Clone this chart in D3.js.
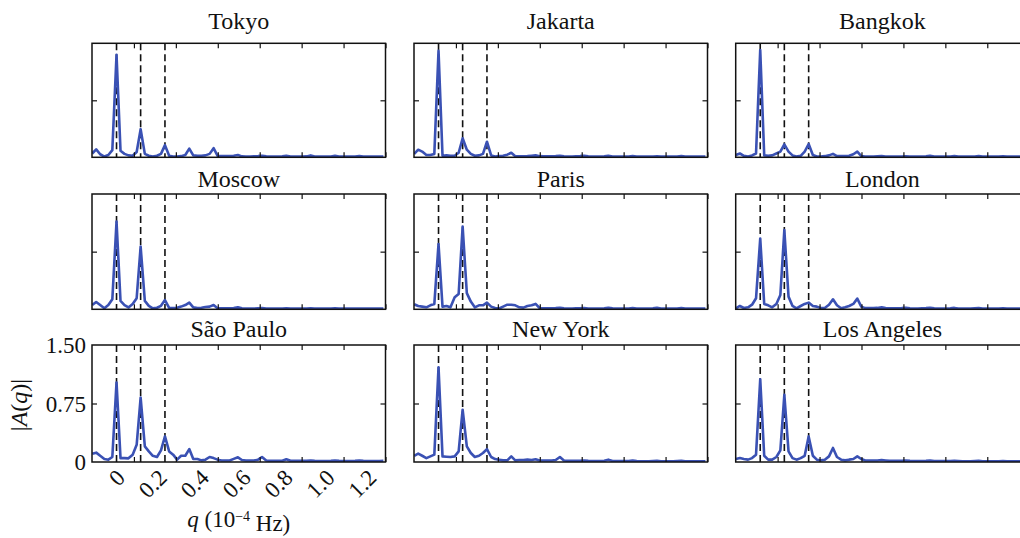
<!DOCTYPE html>
<html>
<head>
<meta charset="utf-8">
<script src="https://cdn.jsdelivr.net/npm/d3@7/dist/d3.min.js"></script>
<style>
  html, body { margin: 0; padding: 0; background: #ffffff; }
  svg { display: block; }
</style>
</head>
<body>
<svg id="chart" width="1020" height="538"></svg>
<script>
// Frequency bins q (10^-4 Hz)
const q = [
  -0.199, -0.180, -0.161, -0.141, -0.122, -0.103,
  -0.083, -0.064, -0.045, -0.026, -0.006, 0.013,
  0.032, 0.052, 0.071, 0.090, 0.110, 0.129,
  0.148, 0.168, 0.187, 0.206, 0.225, 0.245,
  0.264, 0.283, 0.303, 0.322, 0.341, 0.361,
  0.380, 0.399, 0.418, 0.438, 0.457, 0.476,
  0.496, 0.515, 0.534, 0.554, 0.573, 0.592,
  0.611, 0.631, 0.650, 0.669, 0.689, 0.708,
  0.727, 0.747, 0.766, 0.785, 0.804, 0.824,
  0.843, 0.862, 0.882, 0.901, 0.920, 0.940,
  0.959, 0.978, 0.997, 1.017, 1.036, 1.055,
  1.075, 1.094, 1.113, 1.133, 1.152, 1.171, 1.190
];

// |A(q)| spectra per city
const tokyo = [
  0.05, 0.105, 0.04, 0.01, 0.03, 0.095,
  1.35, 0.085, 0.045, 0.025, 0.02, 0.07,
  0.37, 0.045, 0.02, 0.01, 0.02, 0.045,
  0.16, 0.02, 0.01, 0.01, 0.015, 0.03,
  0.115, 0.025, 0.02, 0.02, 0.025, 0.045,
  0.12, 0.02, 0.015, 0.015, 0.015, 0.02,
  0.03, 0.012, 0.01, 0.01, 0.012, 0.015,
  0.02, 0.012, 0.01, 0.01, 0.01, 0.012,
  0.02, 0.01, 0.01, 0.01, 0.01, 0.012,
  0.025, 0.01, 0.01, 0.01, 0.01, 0.01,
  0.02, 0.01, 0.01, 0.01, 0.01, 0.01,
  0.018, 0.01, 0.01, 0.01, 0.01, 0.01, 0.01
];
const jakarta = [
  0.045, 0.1, 0.075, 0.03, 0.03, 0.045,
  1.40, 0.02, 0.025, 0.02, 0.02, 0.06,
  0.25, 0.1, 0.045, 0.02, 0.025, 0.045,
  0.205, 0.025, 0.01, 0.015, 0.02, 0.035,
  0.06, 0.015, 0.012, 0.012, 0.015, 0.02,
  0.025, 0.015, 0.012, 0.012, 0.012, 0.015,
  0.02, 0.012, 0.01, 0.01, 0.012, 0.015,
  0.02, 0.012, 0.01, 0.01, 0.01, 0.012,
  0.02, 0.01, 0.01, 0.01, 0.01, 0.01,
  0.015, 0.01, 0.01, 0.01, 0.01, 0.01,
  0.012, 0.01, 0.01, 0.01, 0.01, 0.01,
  0.015, 0.01, 0.01, 0.01, 0.01, 0.01, 0.01
];
const bangkok = [
  0.03, 0.05, 0.02, 0.01, 0.025, 0.05,
  1.41, 0.025, 0.02, 0.025, 0.05, 0.075,
  0.17, 0.075, 0.025, 0.01, 0.02, 0.075,
  0.175, 0.03, 0.01, 0.01, 0.015, 0.025,
  0.045, 0.015, 0.015, 0.015, 0.02, 0.04,
  0.075, 0.015, 0.01, 0.01, 0.01, 0.012,
  0.015, 0.01, 0.01, 0.01, 0.01, 0.01,
  0.012, 0.01, 0.01, 0.01, 0.01, 0.012,
  0.02, 0.01, 0.01, 0.01, 0.01, 0.01,
  0.015, 0.01, 0.01, 0.01, 0.01, 0.01,
  0.015, 0.01, 0.01, 0.01, 0.01, 0.01,
  0.012, 0.01, 0.01, 0.01, 0.01, 0.01, 0.01
];
const moscow = [
  0.055, 0.095, 0.055, 0.013, 0.055, 0.13,
  1.14, 0.11, 0.055, 0.025, 0.07, 0.145,
  0.815, 0.11, 0.045, 0.013, 0.02, 0.045,
  0.12, 0.02, 0.015, 0.02, 0.035, 0.055,
  0.087, 0.025, 0.015, 0.02, 0.03, 0.035,
  0.056, 0.015, 0.012, 0.012, 0.012, 0.015,
  0.025, 0.012, 0.01, 0.01, 0.01, 0.012,
  0.015, 0.01, 0.01, 0.01, 0.01, 0.01,
  0.012, 0.01, 0.01, 0.01, 0.01, 0.01,
  0.012, 0.01, 0.01, 0.01, 0.01, 0.01,
  0.012, 0.01, 0.01, 0.01, 0.01, 0.01,
  0.01, 0.01, 0.01, 0.01, 0.01, 0.01, 0.01
];
const paris = [
  0.065, 0.043, 0.035, 0.026, 0.052, 0.07,
  0.85, 0.035, 0.043, 0.026, 0.156, 0.2,
  1.075, 0.21, 0.1, 0.026, 0.052, 0.052,
  0.087, 0.035, 0.017, 0.01, 0.035, 0.06,
  0.06, 0.052, 0.026, 0.022, 0.043, 0.052,
  0.07, 0.017, 0.012, 0.012, 0.012, 0.015,
  0.02, 0.012, 0.01, 0.01, 0.012, 0.012,
  0.015, 0.01, 0.01, 0.01, 0.01, 0.012,
  0.02, 0.012, 0.01, 0.01, 0.01, 0.01,
  0.015, 0.01, 0.01, 0.01, 0.01, 0.012,
  0.02, 0.01, 0.01, 0.01, 0.01, 0.01,
  0.015, 0.01, 0.01, 0.01, 0.01, 0.01, 0.01
];
const london = [
  0.013, 0.043, 0.017, 0.026, 0.06, 0.143,
  0.92, 0.07, 0.052, 0.026, 0.07, 0.186,
  1.03, 0.165, 0.043, 0.013, 0.043, 0.07,
  0.087, 0.043, 0.035, 0.017, 0.017, 0.06,
  0.13, 0.052, 0.013, 0.026, 0.043, 0.07,
  0.139, 0.035, 0.015, 0.015, 0.015, 0.018,
  0.025, 0.015, 0.012, 0.012, 0.012, 0.015,
  0.02, 0.012, 0.01, 0.01, 0.012, 0.015,
  0.02, 0.012, 0.01, 0.01, 0.01, 0.012,
  0.018, 0.01, 0.01, 0.01, 0.01, 0.012,
  0.015, 0.01, 0.01, 0.01, 0.01, 0.01,
  0.012, 0.01, 0.01, 0.01, 0.01, 0.01, 0.01
];
const saoPaulo = [
  0.105, 0.12, 0.08, 0.038, 0.03, 0.064,
  1.02, 0.05, 0.05, 0.047, 0.094, 0.22,
  0.826, 0.2, 0.136, 0.08, 0.064, 0.15,
  0.328, 0.136, 0.094, 0.03, 0.08, 0.08,
  0.166, 0.038, 0.038, 0.021, 0.03, 0.064,
  0.05, 0.03, 0.02, 0.02, 0.02, 0.04,
  0.06, 0.025, 0.02, 0.02, 0.02, 0.03,
  0.064, 0.02, 0.015, 0.015, 0.015, 0.015,
  0.035, 0.015, 0.015, 0.015, 0.015, 0.015,
  0.02, 0.015, 0.012, 0.012, 0.012, 0.015,
  0.02, 0.015, 0.012, 0.012, 0.012, 0.015,
  0.02, 0.015, 0.012, 0.012, 0.012, 0.012, 0.015
];
const newYork = [
  0.08, 0.107, 0.08, 0.05, 0.072, 0.094,
  1.215, 0.072, 0.068, 0.064, 0.072, 0.136,
  0.67, 0.2, 0.115, 0.064, 0.08, 0.115,
  0.166, 0.064, 0.038, 0.03, 0.021, 0.021,
  0.072, 0.021, 0.025, 0.025, 0.03, 0.025,
  0.035, 0.02, 0.02, 0.02, 0.02, 0.025,
  0.064, 0.02, 0.015, 0.015, 0.015, 0.015,
  0.02, 0.015, 0.012, 0.012, 0.012, 0.015,
  0.03, 0.012, 0.012, 0.012, 0.012, 0.012,
  0.02, 0.012, 0.01, 0.01, 0.01, 0.012,
  0.015, 0.01, 0.01, 0.01, 0.01, 0.012,
  0.015, 0.01, 0.01, 0.01, 0.01, 0.01, 0.01
];
const losAngeles = [
  0.038, 0.05, 0.038, 0.03, 0.05, 0.094,
  1.06, 0.08, 0.03, 0.03, 0.064, 0.15,
  0.86, 0.136, 0.05, 0.03, 0.05, 0.08,
  0.328, 0.08, 0.03, 0.021, 0.03, 0.072,
  0.18, 0.064, 0.03, 0.021, 0.03, 0.038,
  0.072, 0.038, 0.02, 0.02, 0.02, 0.02,
  0.025, 0.02, 0.015, 0.015, 0.015, 0.015,
  0.02, 0.015, 0.012, 0.012, 0.012, 0.015,
  0.02, 0.012, 0.012, 0.012, 0.012, 0.012,
  0.015, 0.012, 0.01, 0.01, 0.01, 0.012,
  0.015, 0.01, 0.01, 0.01, 0.01, 0.01,
  0.012, 0.01, 0.01, 0.01, 0.01, 0.01, 0.01
];

const cities = ["Tokyo", "Jakarta", "Bangkok", "Moscow", "Paris", "London",
                "São Paulo", "New York", "Los Angeles"];
const spectra = [tokyo, jakarta, bangkok, moscow, paris, london, saoPaulo, newYork, losAngeles];

// Daily harmonics marked with dashed guides
const dayHarmonics = [-0.083, 0.032, 0.148];

const xTicks = [0, 0.2, 0.4, 0.6, 0.8, 1.0, 1.2];
const xTickLabels = ["0", "0.2", "0.4", "0.6", "0.8", "1.0", "1.2"];
const yTicks = [0, 0.75, 1.5];
const yTickLabels = ["0", "0.75", "1.50"];

// Panel grid geometry
const colLeft = [92, 414, 735.7];
const panelW = 293.5;
const rowTop = [43.3, 194, 345];
const rowBottom = [157.3, 309.3, 462];
const titleBaseline = [29, 187, 337];

const SERIF = "'Liberation Serif', 'Times New Roman', Times, serif";
const lineColor = "#3a51b4";
const svg = d3.select("#chart").style("font-family", SERIF);

const x = d3.scaleLinear().domain([-0.2, 1.2]).range([0, panelW]);

spectra.forEach((vals, i) => {
  const r = Math.floor(i / 3), c = i % 3;
  const H = rowBottom[r] - rowTop[r];
  const y = d3.scaleLinear().domain([0, 1.5]).range([H, 0]);
  const g = svg.append("g").attr("transform", `translate(${colLeft[c]},${rowTop[r]})`);

  const clipId = "clip" + i;
  g.append("clipPath").attr("id", clipId)
    .append("rect").attr("x", 0).attr("y", 0).attr("width", panelW).attr("height", H);

  // dashed day-harmonic guides
  g.append("g").selectAll("line").data(dayHarmonics).join("line")
    .attr("x1", d => x(d)).attr("x2", d => x(d))
    .attr("y1", 0).attr("y2", H)
    .attr("stroke", "#111").attr("stroke-width", 1.6)
    .attr("stroke-dasharray", "7,4");

  // spectrum line
  const line = d3.line().x((d, k) => x(q[k])).y(d => y(d));
  g.append("path").datum(vals)
    .attr("clip-path", `url(#${clipId})`)
    .attr("d", line)
    .attr("fill", "none")
    .attr("stroke", lineColor)
    .attr("stroke-width", 2.6)
    .attr("stroke-linejoin", "round");

  // inward ticks on all four sides
  const labelled = (r === 2 && c === 0);
  const axB = g.append("g").attr("transform", `translate(0,${H})`)
    .call(d3.axisBottom(x).tickValues(xTicks).tickSizeInner(-5).tickSizeOuter(0)
      .tickFormat((d, k) => labelled ? xTickLabels[k] : ""));
  const axT = g.append("g")
    .call(d3.axisTop(x).tickValues(xTicks).tickSizeInner(-5).tickSizeOuter(0).tickFormat(""));
  const axL = g.append("g")
    .call(d3.axisLeft(y).tickValues([0.75]).tickSizeInner(-5).tickSizeOuter(0).tickFormat(""));
  const axR = g.append("g").attr("transform", `translate(${panelW},0)`)
    .call(d3.axisRight(y).tickValues([0.75]).tickSizeInner(-5).tickSizeOuter(0).tickFormat(""));
  [axB, axT, axL, axR].forEach(a => {
    a.attr("font-family", null).attr("font-size", null);
    a.select(".domain").remove();
    a.selectAll(".tick line").attr("stroke", "#111").attr("stroke-width", 1.2);
  });

  if (labelled) {
    axB.selectAll(".tick text")
      .attr("x", -8).attr("y", 17).attr("dy", 0)
      .attr("text-anchor", "end")
      .attr("transform", "rotate(-45,-8,17)")
      .style("font-family", SERIF)
      .style("font-size", "23px")
      .attr("fill", "#111");
    g.append("g").selectAll("text").data(yTicks).join("text")
      .attr("x", -6).attr("y", d => y(d))
      .attr("dy", "0.35em")
      .attr("text-anchor", "end")
      .style("font-family", SERIF)
      .style("font-size", "23px")
      .attr("fill", "#111")
      .text((d, k) => yTickLabels[k]);
  }

  // frame
  g.append("rect").attr("x", 0).attr("y", 0).attr("width", panelW).attr("height", H)
    .attr("fill", "none").attr("stroke", "#111").attr("stroke-width", 1.5);

  // panel title
  svg.append("text")
    .attr("x", colLeft[c] + panelW / 2).attr("y", titleBaseline[r])
    .attr("text-anchor", "middle")
    .style("font-family", SERIF)
    .style("font-size", "24px")
    .attr("fill", "#111")
    .text(cities[i]);
});

// axis titles
const yTitle = svg.append("text")
  .attr("transform", "translate(27,405) rotate(-90)")
  .attr("text-anchor", "middle")
  .style("font-family", SERIF)
  .style("font-size", "24px")
  .attr("fill", "#111");
yTitle.append("tspan").text("|");
yTitle.append("tspan").style("font-style", "italic").text("A");
yTitle.append("tspan").text("(");
yTitle.append("tspan").style("font-style", "italic").text("q");
yTitle.append("tspan").text(")|");

const xTitle = svg.append("text")
  .attr("x", colLeft[0] + panelW / 2).attr("y", 527)
  .attr("text-anchor", "middle")
  .style("font-family", SERIF)
  .style("font-size", "23px")
  .attr("fill", "#111");
xTitle.append("tspan").style("font-style", "italic").text("q");
xTitle.append("tspan").text(" (10");
xTitle.append("tspan").attr("dy", "-0.45em").style("font-size", "14px").text("−4");
xTitle.append("tspan").attr("dy", "0.45em").text(" Hz)");
</script>
</body>
</html>
